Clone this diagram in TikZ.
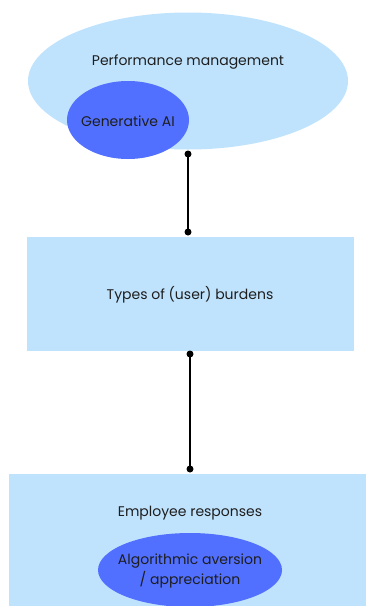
\documentclass[tikz,border=0pt]{standalone}
\usepackage{fontspec}
\setmainfont{Poppins}
\usetikzlibrary{shapes.geometric}
\definecolor{paleblue}{RGB}{192,227,253}
\definecolor{deepblue}{RGB}{82,112,255}
\definecolor{ink}{RGB}{30,30,30}
\tikzset{
  x=1pt, y=-1pt,
  lbl/.style={text=ink, font=\fontsize{14}{20}\selectfont, align=center},
  softblob/.style={ellipse, fill=paleblue, inner sep=0pt},
  coreblob/.style={ellipse, fill=deepblue, inner sep=0pt},
  panel/.style={fill=paleblue},
  pin/.style={circle, fill=black, inner sep=0pt, minimum size=7pt},
  link/.style={draw=black, line width=1.8pt}
}
\begin{document}
\begin{tikzpicture}
\useasboundingbox (0,0) rectangle (366,606);
\begin{scope}
\clip (0,0) rectangle (366,606);
% top cluster
\node[softblob, minimum width=320pt, minimum height=137pt] (pm) at (188,81) {};
\node[lbl] (pmtext) at (188,62) {Performance management};
\node[coreblob, minimum width=122pt, minimum height=78pt] (gai) at (128,120) {};
\node[lbl] (gaitext) at (128,121) {Generative AI};
% middle box
\fill[panel] (27,237) rectangle (354,351);
\node[lbl] (burden) at (190,295) {Types of (user) burdens};
% bottom box
\fill[panel] (9,474) rectangle (370,610);
\node[lbl] (resp) at (190,513) {Employee responses};
\node[coreblob, minimum width=184pt, minimum height=74pt] (alg) at (190,570) {};
\node[lbl] (algtext) at (190,571) {Algorithmic aversion\\/ appreciation};
\end{scope}
% connectors
\node[pin] (p1) at (188,154) {};
\node[pin] (p2) at (188,232) {};
\node[pin] (p3) at (190,354) {};
\node[pin] (p4) at (190,469) {};
\draw[link] (p1.center) -- (p2.center);
\draw[link] (p3.center) -- (p4.center);
\end{tikzpicture}
\end{document}
